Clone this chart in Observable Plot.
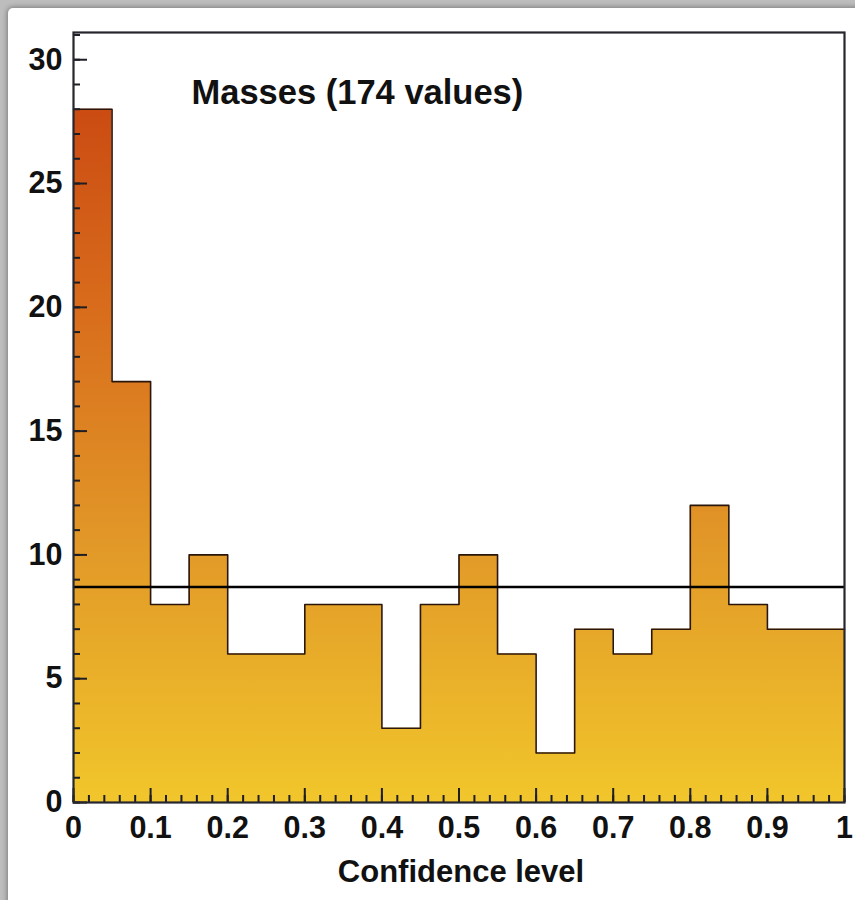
<!DOCTYPE html>
<html>
<head>
<meta charset="utf-8">
<script src="https://cdn.jsdelivr.net/npm/d3@7"></script>
<script src="https://cdn.jsdelivr.net/npm/@observablehq/plot@0.6"></script>
<style>
  html, body { margin: 0; padding: 0; width: 855px; height: 900px; overflow: hidden; background: #bdbdbd; }
  #card { position: absolute; left: 8px; top: 8px; width: 1000px; height: 1000px; background: #fff;
          border-top-left-radius: 5px; box-shadow: 0 0 5px 1px rgba(0,0,0,0.35); }
  #chart { position: absolute; left: 0; top: 0; }
</style>
</head>
<body>
<div id="card"></div>
<div id="chart"></div>
<script>
// ---- data ----
const binStarts = [0, 0.05, 0.1, 0.15, 0.2, 0.25, 0.3, 0.35, 0.4, 0.45, 0.5, 0.55, 0.6, 0.65, 0.7, 0.75, 0.8, 0.85, 0.9, 0.95];
const binEnd = 1;
const counts = [28, 17, 8, 10, 6, 6, 8, 8, 3, 8, 10, 6, 2, 7, 6, 7, 12, 8, 7, 7];
const meanLevel = 8.7;
const title = "Masses (174 values)";
const xLabel = "Confidence level";
const xMajor = [0, 0.1, 0.2, 0.3, 0.4, 0.5, 0.6, 0.7, 0.8, 0.9, 1];
const xTickLabels = ["0", "0.1", "0.2", "0.3", "0.4", "0.5", "0.6", "0.7", "0.8", "0.9", "1"];
const yMajor = [0, 5, 10, 15, 20, 25, 30];
const yMax = 31.1;

const xMinor = d3.range(0, 50.5).map(i => i / 50);
const yMinor = d3.range(0, 32);

const steps = binStarts.map((x, i) => ({x, y: counts[i]}));
steps.push({x: binEnd, y: counts[counts.length - 1]});

const font = "'Liberation Sans', Arial, Helvetica, sans-serif";
const tickColor = "#1e1e24";

const chart = Plot.plot({
  width: 855,
  height: 900,
  marginLeft: 73,
  marginRight: 11,
  marginTop: 32,
  marginBottom: 98,
  style: {background: "transparent", fontFamily: font, overflow: "visible"},
  x: {domain: [0, 1]},
  y: {domain: [0, yMax]},
  marks: [
    Plot.areaY(steps, {x: "x", y: "y", curve: "step-after", fill: "url(#histGrad)"}),
    Plot.lineY(steps, {x: "x", y: "y", curve: "step-after", stroke: "#2b160c", strokeWidth: 1.6}),
    Plot.ruleY([meanLevel], {stroke: "#000", strokeWidth: 2.5}),
    // minor / major ticks (inside the frame)
    Plot.ruleX(xMinor, {x: d => d, y1: 0, y2: 7 / 24.77, stroke: tickColor, strokeWidth: 2}),
    Plot.ruleX(xMajor, {x: d => d, y1: 0, y2: 14 / 24.77, stroke: tickColor, strokeWidth: 2}),
    Plot.ruleY(yMinor, {y: d => d, x1: 0, x2: 7 / 771, stroke: tickColor, strokeWidth: 2}),
    Plot.ruleY(yMajor, {y: d => d, x1: 0, x2: 14 / 771, stroke: tickColor, strokeWidth: 2}),
    Plot.axisX(xMajor, {tickSize: 0, tickPadding: 14, tickFormat: (d, i) => xTickLabels[i],
      fontSize: 30.5, fontWeight: "bold", fill: "#111", label: null}),
    Plot.axisY(yMajor, {tickSize: 0, tickPadding: 11, fontSize: 30.5, fontWeight: "bold", fill: "#111", label: null}),
    Plot.text([xLabel], {text: d => d, frameAnchor: "bottom", lineAnchor: "middle", dx: 2, dy: 70, fontSize: 31,
      fontWeight: "bold", fill: "#111"}),
    Plot.text([title], {text: d => d, frameAnchor: "top-left", lineAnchor: "middle", textAnchor: "start", dx: 118, dy: 60,
      fontSize: 34.5, fontWeight: "bold", fill: "#111"}),
    Plot.frame({stroke: "#26262e", strokeWidth: 2.2})
  ]
});

// gradient defined in plot coordinates via the y scale
const ys = chart.scale("y");
const yPx = d3.scaleLinear(ys.domain, ys.range);
const stops = [
  {v: yMax, c: "#c43f10"},
  {v: 28, c: "#cb4b12"},
  {v: 20, c: "#d86c1c"},
  {v: 10, c: "#e29a28"},
  {v: 0, c: "#f1c62b"}
];
const ns = "http://www.w3.org/2000/svg";
const defs = document.createElementNS(ns, "defs");
const grad = document.createElementNS(ns, "linearGradient");
grad.setAttribute("id", "histGrad");
grad.setAttribute("gradientUnits", "userSpaceOnUse");
grad.setAttribute("x1", 0); grad.setAttribute("x2", 0);
grad.setAttribute("y1", yPx(yMax)); grad.setAttribute("y2", yPx(0));
for (const s of stops) {
  const st = document.createElementNS(ns, "stop");
  st.setAttribute("offset", (yPx(s.v) - yPx(yMax)) / (yPx(0) - yPx(yMax)));
  st.setAttribute("stop-color", s.c);
  grad.appendChild(st);
}
defs.appendChild(grad);
chart.insertBefore(defs, chart.firstChild);

document.getElementById("chart").appendChild(chart);
</script>
</body>
</html>
